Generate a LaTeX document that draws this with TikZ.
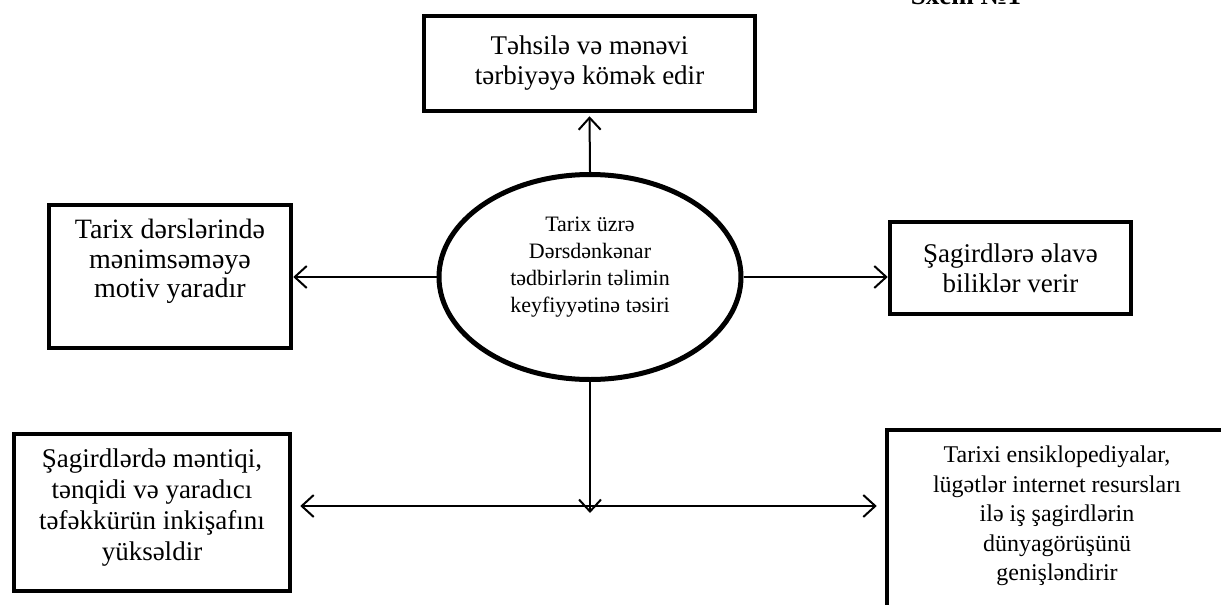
\documentclass[tikz,border=0pt]{standalone}
\usepackage{fontspec}
\setmainfont{Liberation Serif}
\usepackage{tikz}
\usetikzlibrary{shapes.geometric,arrows.meta}

\begin{document}
\begin{tikzpicture}[x=1pt,y=-1pt,
    box/.style={draw,line width=4.5pt,inner sep=0pt,align=center},
    bigtext/.style={font=\fontsize{27}{30}\selectfont},
    smalltext/.style={font=\fontsize{24}{29.5}\selectfont},
    arr/.style={line width=2pt,-{Straight Barb[length=12pt,width=22pt,line width=2pt]}}]
    \useasboundingbox (0,0) rectangle (1221,605);
    \node[font=\fontsize{27}{30}\selectfont\bfseries,anchor=base] (sxem) at (966,5) {Sxem №1};

    \node[draw,ellipse,line width=5pt,inner sep=0pt,align=center,
      minimum width=302pt,minimum height=205pt,text depth=25pt,
      font=\fontsize{22}{27}\selectfont] (ell) at (590,277)
      {Tarix üzrə\\Dərsdənkənar\\tədbirlərin təlimin\\keyfiyyətinə təsiri};

    \node[box,bigtext,minimum width=331pt,minimum height=95pt] (tbox) at (589.5,63.5)
      {Təhsilə və mənəvi\\tərbiyəyə kömək edir};
    \node[box,font=\fontsize{28}{29.5}\selectfont,minimum width=242pt,minimum height=143pt,text depth=36pt] (lbox) at (170,276.5)
      {Tarix dərslərində\\mənimsəməyə\\motiv yaradır};
    \node[box,bigtext,minimum width=241pt,minimum height=92pt] (rbox) at (1010.5,268)
      {Şagirdlərə əlavə\\biliklər verir};
    \node[box,font=\fontsize{27}{31}\selectfont,minimum width=276pt,minimum height=157pt,text depth=16pt] (blbox) at (152,512.5)
      {Şagirdlərdə məntiqi,\\tənqidi və yaradıcı\\təfəkkürün inkişafını\\yüksəldir};
    \node[box,smalltext,minimum width=340pt,minimum height=200pt,text depth=33pt] (brbox) at (1057,530)
      {Tarixi ensiklopediyalar,\\lügətlər internet resursları\\ilə iş şagirdlərin\\dünyagörüşünü\\genişləndirir};

    \coordinate (hub) at (590,506);
    \coordinate (tip) at (590,513);

    \draw[arr,shorten >=3pt] (ell.north) -- (tbox.south);
    \draw[arr] (ell.west) -- (ell.west -| lbox.east);
    \draw[arr] (ell.east) -- (ell.east -| rbox.west);
    \draw[arr] (ell.south) -- (tip);
    \draw[arr,shorten >=8pt] (hub) -- (hub -| blbox.east);
    \draw[arr,shorten >=8pt] (hub) -- (hub -| brbox.west);
\end{tikzpicture}
\end{document}
